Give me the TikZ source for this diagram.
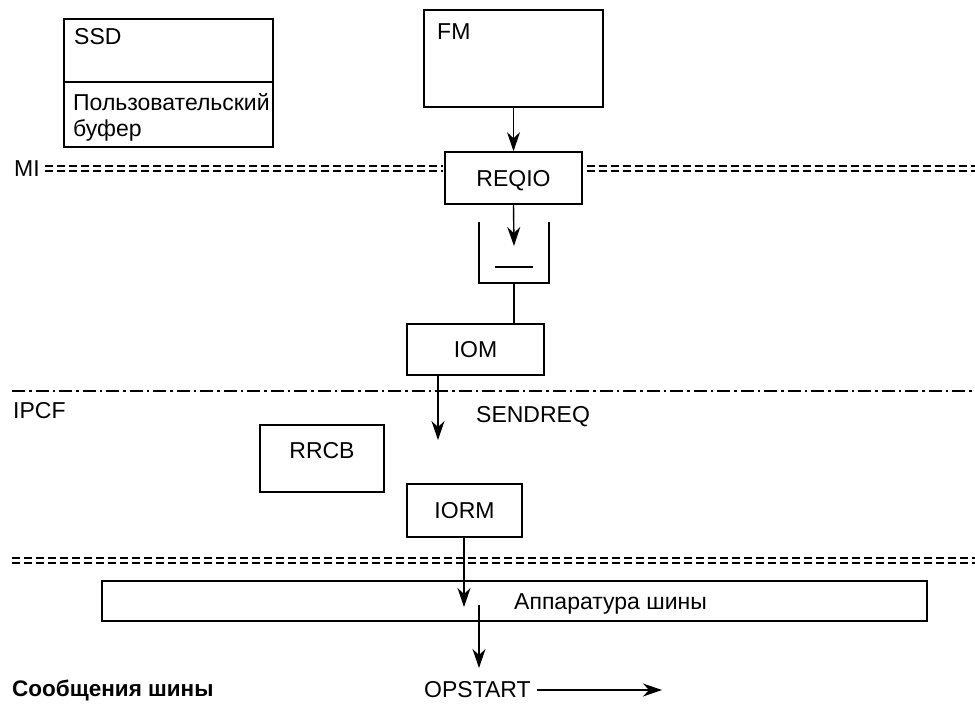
\documentclass[tikz,border=0pt]{standalone}
\usepackage{fontspec}
\setmainfont{Liberation Sans}
\usetikzlibrary{arrows.meta}
\begin{document}
\begin{tikzpicture}[x=1pt,y=-1pt,
  every node/.style={font=\fontsize{23}{26}\selectfont},
  box/.style={draw,line width=1.6pt,rectangle,inner sep=0pt,text height=16.5pt,text depth=0pt},
  lbl/.style={inner sep=0pt,anchor=base west},
  arr/.style={line width=1.4pt,-{Stealth[length=19pt,width=13pt,inset=6pt]}},
  ln/.style={line width=1.6pt},
  dbl/.style={line width=1.3pt,dash pattern=on 8pt off 4pt},
  dashdot/.style={line width=1.3pt,dash pattern=on 13pt off 4pt on 2.5pt off 4pt}]
\useasboundingbox (0,0) rectangle (975,704);
% SSD
\node[box,minimum width=209pt,minimum height=128pt] (ssd) at (168.5,83) {};
\draw[ln] (64,82) -- (273,82);
\node[lbl] (ssdt) at (74,44) {SSD};
\node[lbl] (buf1) at (73,110) {Пользовательский};
\node[lbl] (buf2) at (73,136) {буфер};
% FM
\node[box,minimum width=179pt,minimum height=97pt] (fm) at (513.5,58.5) {};
\node[lbl] (fmt) at (437,39) {FM};
% MI line
\node[lbl] (mi) at (14,176) {MI};
\draw[dbl] (45,166) -- (443,166);
\draw[dbl] (45,171) -- (443,171);
\draw[dbl] (587,166) -- (975,166);
\draw[dbl] (587,171) -- (975,171);
% REQIO
\node[box,minimum width=137pt,minimum height=52pt] (req) at (513.5,178) {REQIO};
\draw[arr] (fm.south -| req.north) -- (req.north);
% queue
\coordinate (qin) at (514,246);
\draw[arr] (req.south) -- (qin);
\draw[ln] (479,222) -- (479,283) -- (549,283) -- (549,222);
\draw[ln] (495,267) -- (533,267);
\coordinate (qout) at (514,283);
% IOM
\node[box,minimum width=137pt,minimum height=51pt] (iom) at (475.5,349.5) {IOM};
\draw[ln] (qout) -- (qout |- iom.north);
% IPCF line
\draw[dashdot] (12,391) -- (975,391);
\node[lbl] (ipcf) at (13,418) {IPCF};
\node[lbl] (sendreq) at (476,422) {SENDREQ};
\coordinate (send) at (438,440);
\draw[arr] (send |- iom.south) -- (send);
% RRCB
\node[box,minimum width=124pt,minimum height=67pt,text depth=16.5pt] (rrcb) at (322,458.5) {RRCB};
% IORM
\node[box,minimum width=115pt,minimum height=53pt] (iorm) at (464.5,510.5) {IORM};
% bottom line
\draw[dbl] (12,558) -- (975,558);
\draw[dbl] (12,563) -- (975,563);
% bus
\node[box,minimum width=825pt,minimum height=40pt] (bus) at (514.5,601) {};
\node[lbl] (bust) at (514,609) {Аппаратура шины};
\coordinate (busin) at (464,607);
\draw[arr] (busin |- iorm.south) -- (busin);
\coordinate (busout) at (479,605);
\coordinate (opin) at (479,668);
\draw[arr] (busout) -- (opin);
% bottom texts
\node[lbl,font=\fontsize{22.5}{26}\selectfont\bfseries] (msg) at (12,696) {Сообщения шины};
\node[lbl] (opstart) at (424,697) {OPSTART};
\coordinate (opend) at (662,690);
\draw[arr] (537,690) -- (opend);
\end{tikzpicture}
\end{document}
